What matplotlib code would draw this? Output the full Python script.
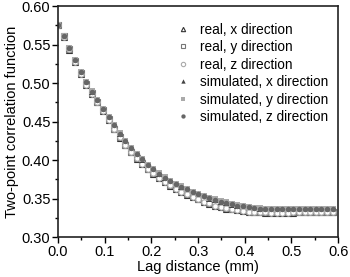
import numpy as np
import matplotlib
matplotlib.use("Agg")
import matplotlib.pyplot as plt
from matplotlib.ticker import MultipleLocator

plt.rcParams['font.family'] = ['Liberation Sans', 'DejaVu Sans']

# lag distance (mm), 50 lags
lag = np.arange(50) * 0.012

real_x = [0.576, 0.560, 0.543, 0.528, 0.512, 0.498, 0.486, 0.475, 0.464, 0.452,
          0.440, 0.429, 0.419, 0.410, 0.402, 0.395, 0.388, 0.382, 0.377, 0.372,
          0.367, 0.363, 0.359, 0.355, 0.352, 0.349, 0.346, 0.343, 0.341, 0.339,
          0.337, 0.336, 0.335, 0.334, 0.333, 0.332, 0.332, 0.331, 0.331, 0.331,
          0.331, 0.331, 0.331, 0.332, 0.332, 0.332, 0.332, 0.332, 0.332, 0.332]
real_y = [0.576, 0.561, 0.544, 0.529, 0.513, 0.499, 0.487, 0.476, 0.465, 0.453,
          0.441, 0.430, 0.420, 0.411, 0.403, 0.396, 0.389, 0.383, 0.378, 0.373,
          0.368, 0.364, 0.360, 0.356, 0.353, 0.350, 0.347, 0.344, 0.342, 0.340,
          0.338, 0.337, 0.336, 0.335, 0.334, 0.333, 0.333, 0.332, 0.332, 0.332,
          0.332, 0.332, 0.332, 0.332, 0.333, 0.333, 0.333, 0.333, 0.333, 0.333]
real_z = [0.576, 0.560, 0.544, 0.528, 0.512, 0.498, 0.486, 0.475, 0.464, 0.452,
          0.441, 0.430, 0.420, 0.411, 0.403, 0.395, 0.389, 0.383, 0.377, 0.372,
          0.368, 0.363, 0.359, 0.356, 0.352, 0.349, 0.346, 0.344, 0.341, 0.339,
          0.338, 0.336, 0.335, 0.334, 0.333, 0.333, 0.332, 0.332, 0.331, 0.331,
          0.331, 0.331, 0.332, 0.332, 0.332, 0.332, 0.332, 0.332, 0.332, 0.332]
sim_x = [0.576, 0.561, 0.545, 0.530, 0.515, 0.501, 0.489, 0.478, 0.467, 0.456,
         0.445, 0.434, 0.425, 0.416, 0.408, 0.400, 0.394, 0.388, 0.382, 0.377,
         0.373, 0.369, 0.365, 0.362, 0.359, 0.356, 0.353, 0.350, 0.348, 0.346,
         0.344, 0.342, 0.341, 0.340, 0.339, 0.338, 0.337, 0.337, 0.336, 0.336,
         0.336, 0.336, 0.336, 0.336, 0.336, 0.336, 0.336, 0.336, 0.336, 0.336]
sim_y = [0.576, 0.561, 0.545, 0.530, 0.515, 0.502, 0.490, 0.478, 0.467, 0.456,
         0.445, 0.435, 0.425, 0.416, 0.408, 0.401, 0.394, 0.388, 0.383, 0.378,
         0.373, 0.369, 0.366, 0.362, 0.359, 0.356, 0.353, 0.351, 0.349, 0.347,
         0.345, 0.343, 0.342, 0.340, 0.339, 0.338, 0.338, 0.337, 0.337, 0.336,
         0.336, 0.336, 0.336, 0.336, 0.336, 0.336, 0.336, 0.336, 0.336, 0.336]
sim_z = [0.576, 0.561, 0.545, 0.530, 0.515, 0.501, 0.489, 0.478, 0.467, 0.456,
         0.445, 0.434, 0.425, 0.416, 0.408, 0.401, 0.394, 0.388, 0.382, 0.377,
         0.373, 0.369, 0.365, 0.362, 0.359, 0.356, 0.353, 0.351, 0.348, 0.346,
         0.344, 0.343, 0.341, 0.340, 0.339, 0.338, 0.337, 0.337, 0.336, 0.336,
         0.336, 0.336, 0.336, 0.336, 0.336, 0.336, 0.336, 0.336, 0.336, 0.336]

fig = plt.figure(figsize=(3.5, 2.77), dpi=100)
ax = fig.add_axes([0.166, 0.144, 0.800, 0.834])

ms = 3.9
ax.plot(lag, real_x, '^', ms=ms, mfc='white', mec='#333333', mew=0.8, ls='none', label='real, x direction')
ax.plot(lag, real_y, 's', ms=ms, mfc='white', mec='#777777', mew=0.8, ls='none', label='real, y direction')
ax.plot(lag, real_z, 'o', ms=ms, mfc='white', mec='#aaaaaa', mew=0.8, ls='none', label='real, z direction')
ax.plot(lag, sim_x, '^', ms=ms, color='#444444', mew=0, ls='none', label='simulated, x direction')
ax.plot(lag, sim_y, 's', ms=ms, color='#aaaaaa', mew=0, ls='none', label='simulated, y direction')
ax.plot(lag, sim_z, 'o', ms=ms, color='#666666', mew=0, ls='none', label='simulated, z direction')

ax.set_xlim(0, 0.6)
ax.set_ylim(0.30, 0.60)
ax.xaxis.set_major_locator(MultipleLocator(0.1))
ax.xaxis.set_minor_locator(MultipleLocator(0.05))
ax.yaxis.set_major_locator(MultipleLocator(0.05))
ax.yaxis.set_minor_locator(MultipleLocator(0.025))
ax.xaxis.set_major_formatter(matplotlib.ticker.FormatStrFormatter('%.1f'))
ax.yaxis.set_major_formatter(matplotlib.ticker.FormatStrFormatter('%.2f'))
ax.tick_params(which='major', direction='out', length=4, width=1, labelsize=10.5, pad=1.5)
ax.tick_params(which='minor', direction='out', length=2.5, width=1)
for s in ax.spines.values():
    s.set_linewidth(1.2)
    s.set_color('#222222')

ax.set_xlabel('Lag distance (mm)', fontsize=10.5, labelpad=1)
ax.set_ylabel('Two-point correlation function', fontsize=10.5, labelpad=2)

ax.legend(loc='upper right', frameon=False, fontsize=9.8, handletextpad=0.7,
          labelspacing=0.26, borderaxespad=0.3, markerscale=0.8,
          handlelength=1.2, bbox_to_anchor=(1.0, 0.97))

fig.savefig('out.png', dpi=100)
